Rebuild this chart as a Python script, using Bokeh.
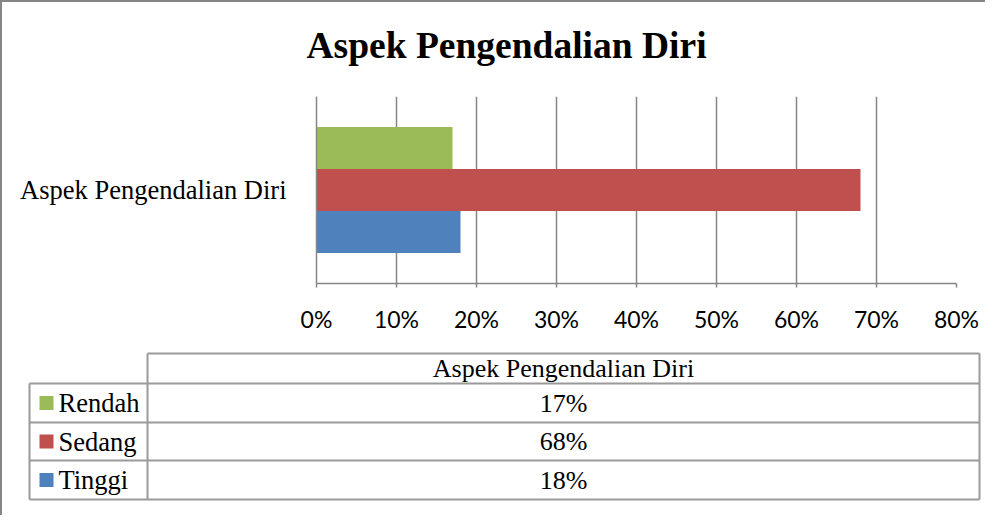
from bokeh.plotting import figure
from bokeh.models import Range1d, FactorRange, NumeralTickFormatter, FixedTicker, ColumnDataSource
from bokeh.transform import dodge
from bokeh.layouts import column
from bokeh.embed import file_html
from bokeh.resources import INLINE
from bokeh.core.properties import value

# ---- data ----
title_text = "Aspek Pengendalian Diri"
category = "Aspek Pengendalian Diri"
series = ["Rendah", "Sedang", "Tinggi"]
values = [0.17, 0.68, 0.18]
colors = ["#9BBB59", "#C0504D", "#4F81BD"]
x_ticks = [0.0, 0.1, 0.2, 0.3, 0.4, 0.5, 0.6, 0.7, 0.8]

# ---- style constants ----
GRAY = "#868686"
TABLE_GRAY = "#9A9A9A"
SERIF = "Liberation Serif"
W = 983
TITLE_H = 80
TOP_H = 265
TAB_H = 168
BAR_H = 0.2246


def blank_fig(h):
    f = figure(width=W, height=h, x_range=Range1d(0, W), y_range=Range1d(h, 0),
               x_axis_type=None, y_axis_type=None, title_location=None,
               output_backend="svg", toolbar_location=None, min_border=0)
    f.outline_line_color = None
    f.grid.visible = False
    return f


# ---- title ----
tf = blank_fig(TITLE_H)
tf.text(x=[304], y=[43], text=[title_text], text_font=value(SERIF),
        text_font_style="bold", text_font_size="37.5px", text_align="left",
        text_baseline="alphabetic", text_color="black")

# ---- bar chart ----
p = figure(width=W, height=TOP_H,
           x_range=Range1d(0, 0.8),
           y_range=FactorRange(factors=[category], range_padding=0),
           title_location=None,
           output_backend="svg", toolbar_location=None,
           min_border_left=314, min_border_right=29,
           min_border_top=14, min_border_bottom=64)
p.outline_line_color = None
p.ygrid.grid_line_color = None
p.xgrid.grid_line_color = GRAY
p.xgrid.grid_line_width = 1.5
p.xgrid.ticker = FixedTicker(ticks=x_ticks)

p.xaxis.ticker = FixedTicker(ticks=x_ticks)
p.xaxis.formatter = NumeralTickFormatter(format="0%")
p.xaxis.axis_line_color = GRAY
p.xaxis.axis_line_width = 1.5
p.xaxis.major_tick_line_color = GRAY
p.xaxis.major_tick_line_width = 1.5
p.xaxis.major_tick_out = 4
p.xaxis.major_tick_in = 0
p.xaxis.minor_tick_line_color = None
p.xaxis.major_label_text_font = "Lato"
p.xaxis.major_label_text_font_size = "23px"
p.xaxis.major_label_text_color = "black"
p.xaxis.major_label_standoff = 17

p.yaxis.axis_line_color = GRAY
p.yaxis.axis_line_width = 1.5
p.yaxis.major_tick_line_color = None
p.yaxis.minor_tick_line_color = None
p.yaxis.major_label_text_font = SERIF
p.yaxis.major_label_text_font_size = "26.5px"
p.yaxis.major_label_text_color = "black"
p.yaxis.major_label_standoff = 24

for i, (s, v, c) in enumerate(zip(series, values, colors)):
    src = ColumnDataSource(dict(cat=[category], val=[v]))
    off = (1 - i) * BAR_H
    p.hbar(y=dodge("cat", off, range=p.y_range), left=0, right="val",
           height=BAR_H, fill_color=c, line_color=None, source=src)

# ---- data table ----
t = blank_fig(TAB_H)

X_LEFT, X_DIV, X_RIGHT = 27, 145, 977
Y_HEAD = 6
ROW_LINES = [36, 75, 113, 152]

x0 = [X_DIV] + [X_LEFT] * len(ROW_LINES) + [X_DIV, X_RIGHT, X_LEFT]
x1 = [X_RIGHT] + [X_RIGHT] * len(ROW_LINES) + [X_DIV, X_RIGHT, X_LEFT]
y0 = [Y_HEAD] + ROW_LINES + [Y_HEAD, Y_HEAD, ROW_LINES[0]]
y1 = [Y_HEAD] + ROW_LINES + [ROW_LINES[-1], ROW_LINES[-1], ROW_LINES[-1]]
t.segment(x0=x0, y0=y0, x1=x1, y1=y1, line_color=TABLE_GRAY, line_width=2)

mid_x = (X_DIV + X_RIGHT) / 2
t.text(x=[mid_x], y=[(Y_HEAD + ROW_LINES[0]) / 2], text=[category],
       text_font=value(SERIF), text_font_size="26px", text_align="center",
       text_baseline="middle", text_color="black")

row_y = [(ROW_LINES[k] + ROW_LINES[k + 1]) / 2 for k in range(len(series))]
t.text(x=[mid_x] * len(series), y=row_y,
       text=[f"{round(v * 100)}%" for v in values],
       text_font=value(SERIF), text_font_size="26px", text_align="center",
       text_baseline="middle", text_color="black")
t.rect(x=[X_LEFT + 17] * len(series), y=row_y, width=14, height=14,
       fill_color=colors, line_color=None)
t.text(x=[X_LEFT + 29] * len(series), y=row_y, text=series,
       text_font=value(SERIF), text_font_size="26.5px", text_align="left",
       text_baseline="middle", text_color="black")

layout = column(column(tf), column(p), column(t), spacing=0,
                styles={"border-left": f"2px solid {GRAY}", "border-top": f"2px solid {GRAY}"})

open("out.html", "w").write(file_html(layout, INLINE))
